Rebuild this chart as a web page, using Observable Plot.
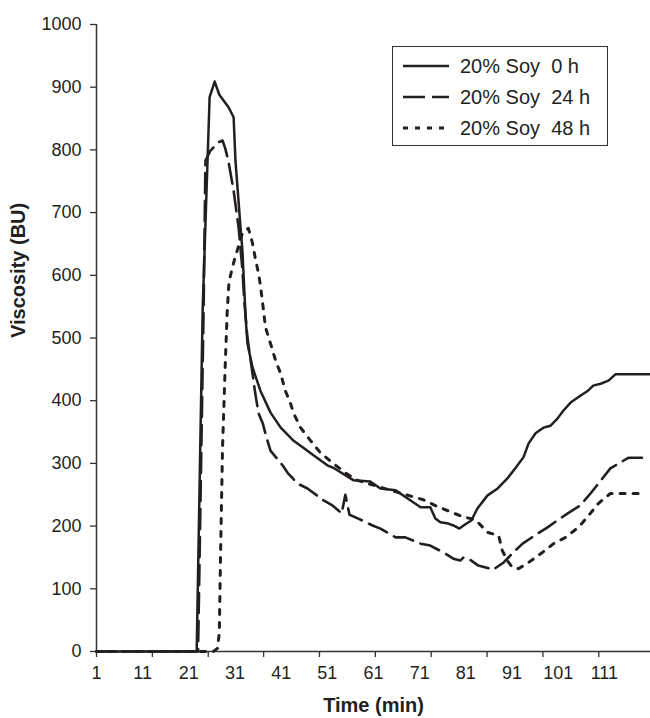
<!DOCTYPE html>
<html><head><meta charset="utf-8">
<script src="https://cdn.jsdelivr.net/npm/d3@7"></script>
<script src="https://cdn.jsdelivr.net/npm/@observablehq/plot@0.6"></script>
<style>
body{margin:0;background:#fff;}
#wrap{position:relative;width:650px;height:718px;}
#legend{position:absolute;left:392px;top:46px;width:216px;height:100px;border:1.3px solid #333;box-sizing:border-box;background:#fff;font-family:"Liberation Sans",Arial,sans-serif;font-size:20px;color:#231f20;}
.row{position:absolute;left:0;height:30px;display:flex;align-items:center;}
.row svg{margin-left:10px;}
.row span{margin-left:11px;white-space:pre;}
</style></head><body><div id="wrap"></div>
<script>
// Time (min) axis labels and tick marks
const xLabels = [1, 11, 21, 31, 41, 51, 61, 71, 81, 91, 101, 111];
const xTickMarks = [1, 13.1, 25.2, 37.2, 49.3, 61.4, 73.5, 85.6, 97.7, 109.8];
const yTicks = [0, 100, 200, 300, 400, 500, 600, 700, 800, 900, 1000];

const seriesNames = ["20% Soy  0 h", "20% Soy  24 h", "20% Soy  48 h"];

// 20% Soy 0 h
const soy0T = [1, 22.7, 24.0, 25.5, 26.6, 27.6, 29.6, 30.7, 31.1, 32.2, 32.6, 33.3, 33.7, 34.8, 36.5, 38.7, 40.9, 43.7, 45.8, 48.0, 51.0, 52.3, 56.7, 60.3, 62.5, 65.8, 68.4, 71.2, 73.3, 74.4, 75.5, 77.2, 78.3, 79.6, 80.9, 82.2, 83.5, 85.7, 87.9, 90.0, 91.8, 93.5, 94.6, 96.1, 97.8, 99.3, 100.8, 102.1, 103.7, 105.8, 107.3, 108.6, 110.2, 111.9, 113.4, 121];
const soy0V = [0, 0, 547, 884, 909, 888, 868, 852, 783, 676, 640, 533, 491, 453, 416, 381, 357, 336, 325, 313, 297, 293, 273, 271, 260, 257, 244, 230, 230, 212, 206, 204, 201, 196, 203, 209, 228, 249, 260, 276, 293, 310, 332, 348, 357, 360, 371, 384, 397, 408, 415, 424, 427, 432, 442, 442];

// 20% Soy 24 h
const soy24T = [1, 23.0, 24.2, 24.6, 25.7, 27.4, 28.3, 28.9, 29.6, 30.7, 31.8, 32.6, 33.0, 33.7, 34.8, 35.4, 36.1, 37.0, 38.0, 38.7, 41.3, 42.4, 44.5, 46.7, 50.2, 52.1, 53.4, 54.1, 54.9, 55.8, 57.7, 60.8, 62.5, 65.8, 67.9, 71.2, 73.3, 76.6, 78.3, 79.8, 80.5, 81.6, 83.7, 86.3, 86.8, 89.2, 91.3, 93.3, 96.5, 98.7, 100.8, 103.0, 105.8, 108.0, 112.3, 116.2, 120];
const soy24V = [0, 0, 547, 783, 799, 812, 815, 802, 781, 735, 675, 610, 560, 500, 443, 411, 380, 364, 337, 320, 297, 285, 268, 260, 241, 233, 225, 220, 250, 218, 212, 201, 196, 182, 182, 172, 169, 156, 148, 145, 150, 148, 137, 132, 130, 142, 158, 172, 188, 198, 209, 220, 233, 252, 292, 309, 309];

// 20% Soy 48 h
const soy48T = [1, 26.3, 27.2, 27.6, 27.9, 28.3, 28.9, 29.3, 29.7, 30.7, 32.6, 33.9, 34.8, 35.4, 36.1, 36.5, 37.0, 37.6, 38.7, 39.8, 40.9, 41.9, 43.0, 43.7, 45.2, 47.4, 49.5, 52.1, 54.9, 57.5, 62.5, 71.8, 74.9, 80.3, 83.1, 85.7, 88.1, 88.9, 90.0, 91.1, 92.4, 94.6, 97.6, 100.0, 102.6, 105.4, 107.6, 109.7, 112.3, 116.0, 119.5];
const soy48V = [0, 0, 5, 30, 166, 325, 460, 540, 590, 620, 667, 675, 651, 627, 603, 584, 555, 517, 491, 464, 443, 416, 396, 380, 357, 336, 317, 301, 285, 273, 262, 242, 231, 215, 210, 190, 185, 161, 145, 134, 132, 142, 158, 172, 182, 198, 217, 236, 252, 252, 252];

const styles = [
  {dash: null, legendDash: null, width: 2.5},
  {dash: "20,8", legendDash: "22,7", width: 2.6},
  {dash: "5,8", legendDash: "5,7", width: 3}
];
const toRows = (T, V) => T.map((t, i) => ({t, v: V[i]}));
const series = [toRows(soy0T, soy0V), toRows(soy24T, soy24V), toRows(soy48T, soy48V)];
const ink = "#231f20";

const chart = Plot.plot({
  width: 650, height: 718,
  marginLeft: 96, marginRight: 0, marginTop: 24, marginBottom: 67,
  style: {fontFamily: "'Liberation Sans', Arial, sans-serif", fontSize: "18px", color: ink, background: "#fff"},
  x: {domain: [1, 121], axis: null},
  y: {domain: [0, 1000], axis: null},
  marks: [
    Plot.axisY({ticks: yTicks, tickSize: 6, tickPadding: 9, tickFormat: d => String(d), label: null, stroke: "#333", strokeWidth: 1.3}),
    Plot.axisX({ticks: xTickMarks, tickSize: 6, tickFormat: () => "", label: null, stroke: "#333", strokeWidth: 1.3}),
    Plot.axisX({ticks: xLabels, tickSize: 0, tickPadding: 15, tickFormat: d => String(d), label: null}),
    Plot.ruleX([1], {stroke: "#333", strokeWidth: 1.5}),
    Plot.ruleY([0], {stroke: "#333", strokeWidth: 1.5}),
    ...series.map((rows, i) => Plot.line(rows, {x: "t", y: "v", stroke: ink, strokeWidth: styles[i].width, strokeDasharray: styles[i].dash, strokeLinejoin: "round"})),
    Plot.text(["Viscosity (BU)"], {frameAnchor: "left", dx: -78, rotate: -90, fontWeight: "bold", fontSize: 20, fill: ink}),
    Plot.text(["Time (min)"], {frameAnchor: "bottom", dy: 54, fontWeight: "bold", fontSize: 20, fill: ink, lineAnchor: "middle"})
  ]
});
const wrap = document.getElementById("wrap");
wrap.appendChild(chart);

// legend
const legend = document.createElement("div");
legend.id = "legend";
seriesNames.forEach((name, i) => {
  const row = document.createElement("div");
  row.className = "row";
  row.style.top = (4 + i * 31) + "px";
  const dash = styles[i].legendDash ? ` stroke-dasharray="${styles[i].legendDash}"` : "";
  row.innerHTML = `<svg width="46" height="10"><line x1="0" y1="5" x2="46" y2="5" stroke="${ink}" stroke-width="${styles[i].width}"${dash}/></svg><span></span>`;
  row.querySelector("span").textContent = name;
  legend.appendChild(row);
});
wrap.appendChild(legend);
</script>
</body></html>
